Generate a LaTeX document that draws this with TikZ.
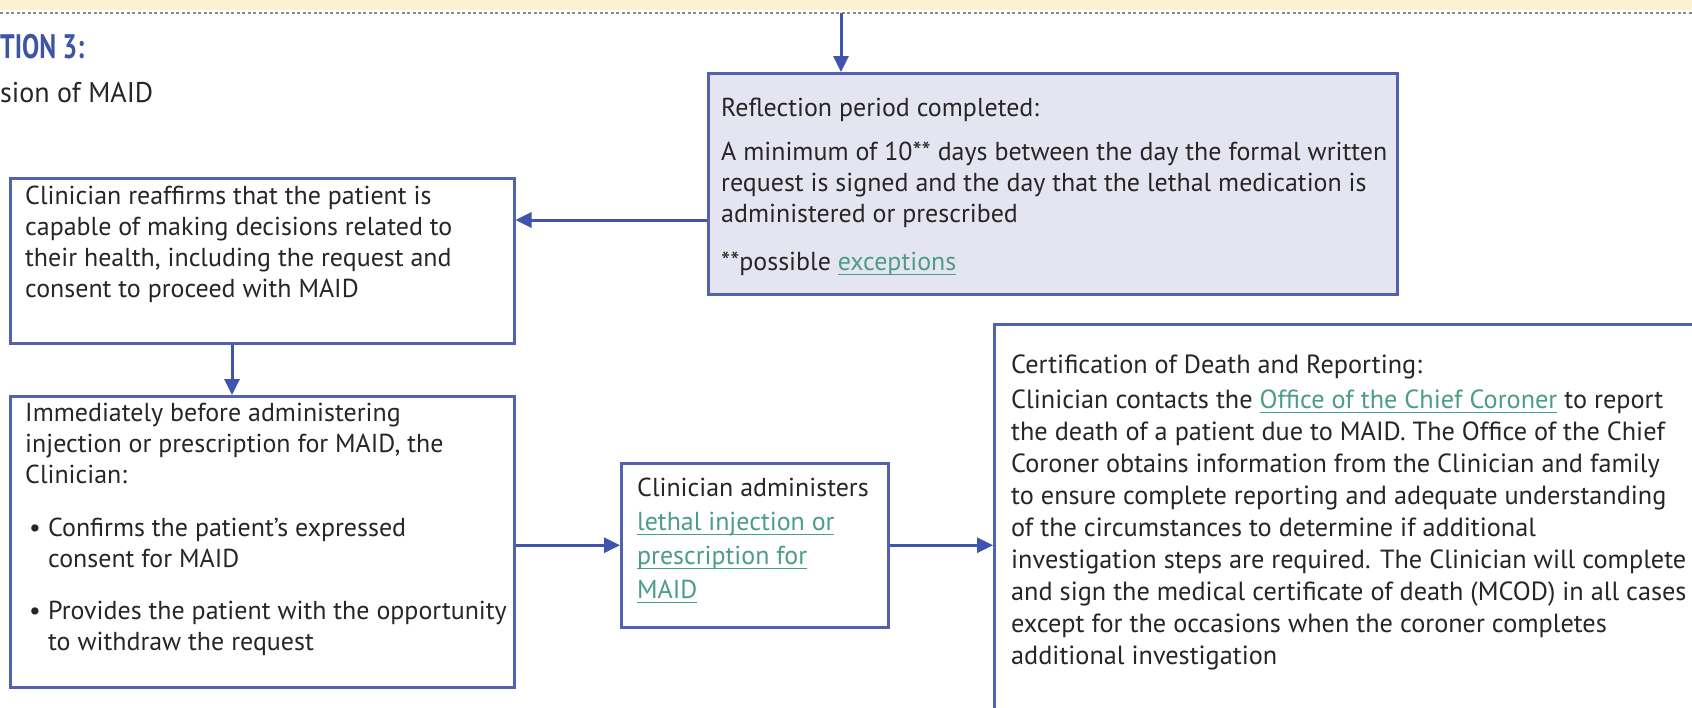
\documentclass[tikz,border=0pt]{standalone}
\usepackage{fontspec}
\setmainfont{PT Sans}
\usetikzlibrary{arrows.meta}
\definecolor{boxblue}{HTML}{5262AC}
\definecolor{arrblue}{HTML}{3F54AC}
\definecolor{lav}{HTML}{E5E5F2}
\definecolor{textc}{HTML}{262626}
\definecolor{linkc}{HTML}{4C9C8A}
\definecolor{titleblue}{HTML}{3E55A6}
\definecolor{bandyellow}{HTML}{FCF2D3}
\definecolor{dotgray}{HTML}{8C8C8C}
\newlength\tmpw
\newcommand\fitfs[4]{%
  \settowidth\tmpw{#2\fontsize{10pt}{12pt}\selectfont #3}%
  \pgfmathsetmacro#1{10*#4/\tmpw}}
\newcommand\lnk[1]{\textcolor{linkc}{\setbox0\hbox{#1}\rlap{\rule[-4.5pt]{\wd0}{1.2pt}}\box0}}
\newcommand\fl{\rule{0pt}{20pt}}
\begin{document}
\fitfs{\fsBody}{}{A minimum of 10** days between the day the formal written}{666}%
\fitfs{\fsFour}{}{investigation steps are required. The Clinician will complete}{675}%
\begin{tikzpicture}[x=1pt,y=-1pt]
\tikzset{
  flowbox/.style={draw=boxblue, line width=2.5pt, rectangle, inner sep=0pt, anchor=north west},
  flowarrow/.style={draw=arrblue, line width=3pt, -{Triangle[length=16pt,width=15pt]}},
  bodytext/.style={anchor=north west, inner sep=0pt, align=left, text=textc,
    font=\fontsize{\fsBody pt}{31pt}\selectfont},
}
\useasboundingbox (0,0) rectangle (1692,707);
\begin{scope}
\clip (0,0) rectangle (1692,707);
\fill[white] (0,0) rectangle (1692,707);
\fill[bandyellow] (0,0) rectangle (1692,10);
\draw[dotgray, line width=1.8pt, dash pattern=on 3pt off 2.5pt] (0,13) -- (1692,13);

% title
\node[anchor=base west, inner sep=0pt, text=titleblue, font=\bfseries\fontsize{34pt}{34pt}\selectfont] (title) at (0,58) {\resizebox{84pt}{\height}{TION 3:}};
\node[anchor=base west, inner sep=0pt, text=textc, font=\fontsize{28.5pt}{28.5pt}\selectfont] (subtitle) at (0,102) {\resizebox{153pt}{\height}{sion of MAID}};

% boxes
\node[flowbox, fill=lav, minimum width=689pt, minimum height=221pt] (refl) at (707,72) {};
\node[flowbox, fill=white, minimum width=504pt, minimum height=165pt] (box1) at (9,177) {};
\node[flowbox, fill=white, minimum width=504pt, minimum height=291pt] (box2) at (9,395) {};
\node[flowbox, fill=white, minimum width=267pt, minimum height=164pt] (box3) at (620,462) {};
\node[flowbox, fill=white, minimum width=760pt, minimum height=420pt] (box4) at (993,323) {};

% texts
\node[bodytext] (refltext) at (721,96) {\fl Reflection period completed:\\[13pt]
A minimum of 10** days between the day the formal written\\
request is signed and the day that the lethal medication is\\
administered or prescribed\\[17pt]
**possible \lnk{exceptions}};

\node[bodytext] (box1text) at (25,184) {\fl Clinician reaffirms that the patient is\\
capable of making decisions related to\\
their health, including the request and\\
consent to proceed with MAID};

\node[bodytext] (box2text) at (25,401) {\fl Immediately before administering\\
injection or prescription for MAID, the\\
Clinician:\\[22pt]
\hspace*{4pt}\makebox[19pt][l]{\textbullet}Confirms the patient’s expressed\\
\hspace*{23pt}consent for MAID\\[21pt]
\hspace*{4pt}\makebox[19pt][l]{\textbullet}Provides the patient with the opportunity\\
\hspace*{23pt}to withdraw the request};

\node[bodytext, font=\fontsize{\fsBody pt}{34pt}\selectfont] (box3text) at (637,476) {\fl Clinician administers\\
\lnk{lethal injection or}\\
\lnk{prescription for}\\
\lnk{MAID}};

\node[bodytext, font=\fontsize{\fsFour pt}{32pt}\selectfont] (box4text) at (1011,353) {\fl Certification of Death and Reporting:\\[3pt]
Clinician contacts the \lnk{Office of the Chief Coroner} to report\\
the death of a patient due to MAID. The Office of the Chief\\
Coroner obtains information from the Clinician and family\\
to ensure complete reporting and adequate understanding\\
of the circumstances to determine if additional\\
investigation steps are required. The Clinician will complete\\
and sign the medical certificate of death (MCOD) in all cases\\
except for the occasions when the coroner completes\\
additional investigation};

% connectors
\coordinate (topin) at (841,13);
\coordinate (y1) at (600,220);
\coordinate (x1) at (232,360);
\draw[flowarrow] (topin) -- (topin |- refl.north);
\draw[flowarrow] (refl.west |- y1) -- (box1.east |- y1);
\draw[flowarrow] (box1.south -| x1) -- (box2.north -| x1);
\draw[flowarrow] (box2.east |- box3.west) -- (box3.west);
\draw[flowarrow] (box3.east) -- (box4.west |- box3.east);
\end{scope}
\end{tikzpicture}
\end{document}
